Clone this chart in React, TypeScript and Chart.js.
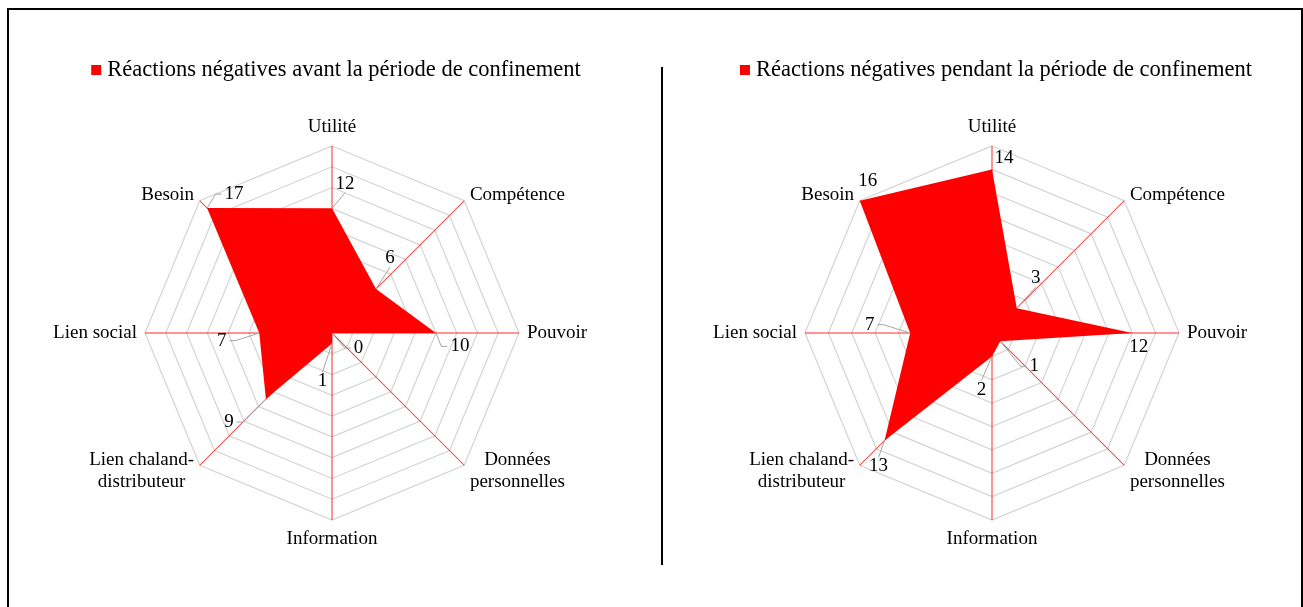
import React, { useEffect, useRef } from 'react';
import { Chart, registerables } from 'chart.js';

Chart.register(...registerables);

// ---- data ----
const categories: string[][] = [
  ['Utilité'],
  ['Compétence'],
  ['Pouvoir'],
  ['Données', 'personnelles'],
  ['Information'],
  ['Lien chaland-', 'distributeur'],
  ['Lien social'],
  ['Besoin'],
];
const labelBefore = 'Réactions négatives avant la période de confinement';
const labelDuring = 'Réactions négatives pendant la période de confinement';
const valuesBefore = [12, 6, 10, 0, 1, 9, 7, 17];
const valuesDuring = [14, 3, 12, 1, 2, 13, 7, 16];
const axisMaxBefore = 18;
const axisMaxDuring = 16;
const axisStep = 2;

// ---- styles ----
const FONT = "'Liberation Serif', 'Times New Roman', serif";
const FILL = '#ff0000';
const SPOKE = '#ff2a2a';
const LEADER = '#a6a6a6';
// data label placement (label centre relative to its point, px)
const labelOffsetsBefore: [number, number][] = [
  [13, -24.5], [14, -31], [24, 13.4], [26.4, 15], [-9.6, 38], [-37, 23], [-37.6, 7.7], [27, -14],
];
const labelOffsetsDuring: [number, number][] = [
  [12, -11.4], [19, -30], [6.6, 13.7], [34, 25], [-10.6, 33.3], [-6, 26], [-40.5, -8.3], [8, -19.5],
];

function fillSegment(ctx: CanvasRenderingContext2D, x1: number, y1: number, x2: number, y2: number, w: number) {
  const len = Math.hypot(x2 - x1, y2 - y1) || 1;
  const nx = (-(y2 - y1) / len) * (w / 2);
  const ny = ((x2 - x1) / len) * (w / 2);
  ctx.beginPath();
  ctx.moveTo(x1 + nx, y1 + ny);
  ctx.lineTo(x2 + nx, y2 + ny);
  ctx.lineTo(x2 - nx, y2 - ny);
  ctx.lineTo(x1 - nx, y1 - ny);
  ctx.closePath();
  ctx.fill();
}

function makePlugin(offsets: [number, number][]) {
  return {
    id: 'excelRadarDecor',
    beforeDatasetsDraw(chart: any) {
      // spokes from the radial scale's own geometry
      const ctx = chart.ctx;
      const scale = chart.scales.r;
      const n = chart.data.labels.length;
      ctx.save();
      ctx.fillStyle = SPOKE;
      for (let i = 0; i < n; i++) {
        const p = scale.getPointPosition(i, scale.getDistanceFromCenterForValue(scale.max));
        fillSegment(ctx, scale.xCenter, scale.yCenter, p.x, p.y, 1);
      }
      ctx.restore();
    },
    afterDatasetsDraw(chart: any) {
      const ctx = chart.ctx;
      const meta = chart.getDatasetMeta(0);
      const data = chart.data.datasets[0].data as number[];
      ctx.save();
      ctx.font = `19px ${FONT}`;
      ctx.textBaseline = 'middle';
      ctx.textAlign = 'center';
      meta.data.forEach((el: any, i: number) => {
        const px = el.x;
        const py = el.y;
        const [ox, oy] = offsets[i];
        const cx = px + ox;
        const cy = py + oy;
        const text = String(data[i]);
        const hw = ctx.measureText(text).width / 2 + 1;
        const hh = 7;
        const gx = Math.max(0, Math.abs(ox) - hw);
        const gy = Math.max(0, Math.abs(oy) - hh);
        if (Math.hypot(gx, gy) > 14) {
          ctx.strokeStyle = LEADER;
          ctx.lineWidth = 1;
          ctx.beginPath();
          ctx.moveTo(px, py);
          if (gy > gx) {
            const ty = oy > 0 ? cy - hh - 2 : cy + hh + 2;
            ctx.lineTo(cx, ty);
          } else {
            const tx = ox > 0 ? cx - hw - 2 : cx + hw + 2;
            const ex = ox > 0 ? tx - 6 : tx + 6;
            ctx.lineTo(ex, cy);
            ctx.lineTo(tx, cy);
          }
          ctx.stroke();
        }
        ctx.fillStyle = '#000';
        ctx.fillText(text, cx, cy);
      });
      ctx.restore();
    },
    afterDraw(chart: any) {
      const ctx = chart.ctx;
      const scale = chart.scales.r;
      const area = chart.chartArea;
      ctx.save();
      // legend
      const ds = chart.data.datasets[0];
      ctx.font = `22.5px ${FONT}`;
      ctx.textBaseline = 'middle';
      ctx.textAlign = 'left';
      const tw = ctx.measureText(ds.label).width;
      const total = 10 + 6 + tw;
      const lx = scale.xCenter + 4 - total / 2;
      const ly = area.top - 76;
      ctx.fillStyle = ds.backgroundColor;
      ctx.fillRect(lx, ly - 5, 10, 10);
      ctx.fillStyle = '#000';
      ctx.fillText(ds.label, lx + 16, ly);
      // category labels
      ctx.font = `19px ${FONT}`;
      ctx.textAlign = 'center';
      const lh = 22;
      (chart.data.labels as string[][]).forEach((lab, i) => {
        const lines = Array.isArray(lab) ? lab : [lab];
        const pos = scale.getPointPosition(i, scale.drawingArea + 8);
        const deg = Math.round((scale.getIndexAngle(i) * 180) / Math.PI) % 360;
        const bh = lines.length * lh;
        const bw = Math.max(...lines.map((t) => ctx.measureText(t).width));
        let left: number;
        let top: number;
        if (deg === 0) { left = pos.x - bw / 2; top = pos.y - bh; }
        else if (deg === 180) { left = pos.x - bw / 2; top = pos.y; }
        else if (deg < 180) { left = pos.x; top = pos.y - bh / 2; }
        else { left = pos.x - bw; top = pos.y - bh / 2; }
        lines.forEach((t, k) => ctx.fillText(t, left + bw / 2, top + lh * k + lh / 2));
      });
      ctx.restore();
    },
  };
}

function RadarPanel(props: { values: number[]; label: string; max: number; offsets: [number, number][]; left: number }) {
  const ref = useRef<HTMLCanvasElement | null>(null);
  useEffect(() => {
    if (!ref.current) return;
    const chart = new Chart(ref.current, {
      type: 'radar',
      data: {
        labels: categories,
        datasets: [
          {
            label: props.label,
            data: props.values,
            backgroundColor: FILL,
            borderColor: FILL,
            borderWidth: 0,
            pointRadius: 0,
            pointHoverRadius: 0,
            fill: true,
          },
        ],
      },
      options: {
        responsive: false,
        animation: false,
        devicePixelRatio: 1,
        events: [],
        layout: { padding: { top: 146, bottom: 80, left: 0, right: 0 } },
        plugins: { legend: { display: false }, tooltip: { enabled: false } },
        scales: {
          r: {
            min: 0,
            max: props.max,
            ticks: { display: false, stepSize: axisStep },
            grid: { color: '#d4d4d4', lineWidth: 1.2 },
            angleLines: { display: false },
            pointLabels: { display: false },
          },
        },
      } as any,
      plugins: [makePlugin(props.offsets)],
    });
    return () => chart.destroy();
  }, []);
  return (
    <canvas
      ref={ref}
      width={640}
      height={600}
      style={{ position: 'absolute', left: props.left, top: 0, width: 640, height: 600 }}
    />
  );
}

export default function App() {
  return (
    <div style={{ position: 'fixed', left: 0, top: 0, width: 1303, height: 607, overflow: 'hidden', background: '#fff' }}>
      <div
        style={{
          position: 'absolute',
          left: 7,
          top: 8,
          width: 1296,
          height: 700,
          border: '2px solid #000',
          boxSizing: 'border-box',
        }}
      />
      <div style={{ position: 'absolute', left: 661, top: 67, width: 2, height: 498, background: '#000' }} />
      <RadarPanel values={valuesBefore} label={labelBefore} max={axisMaxBefore} offsets={labelOffsetsBefore} left={12} />
      <RadarPanel values={valuesDuring} label={labelDuring} max={axisMaxDuring} offsets={labelOffsetsDuring} left={672} />
    </div>
  );
}
